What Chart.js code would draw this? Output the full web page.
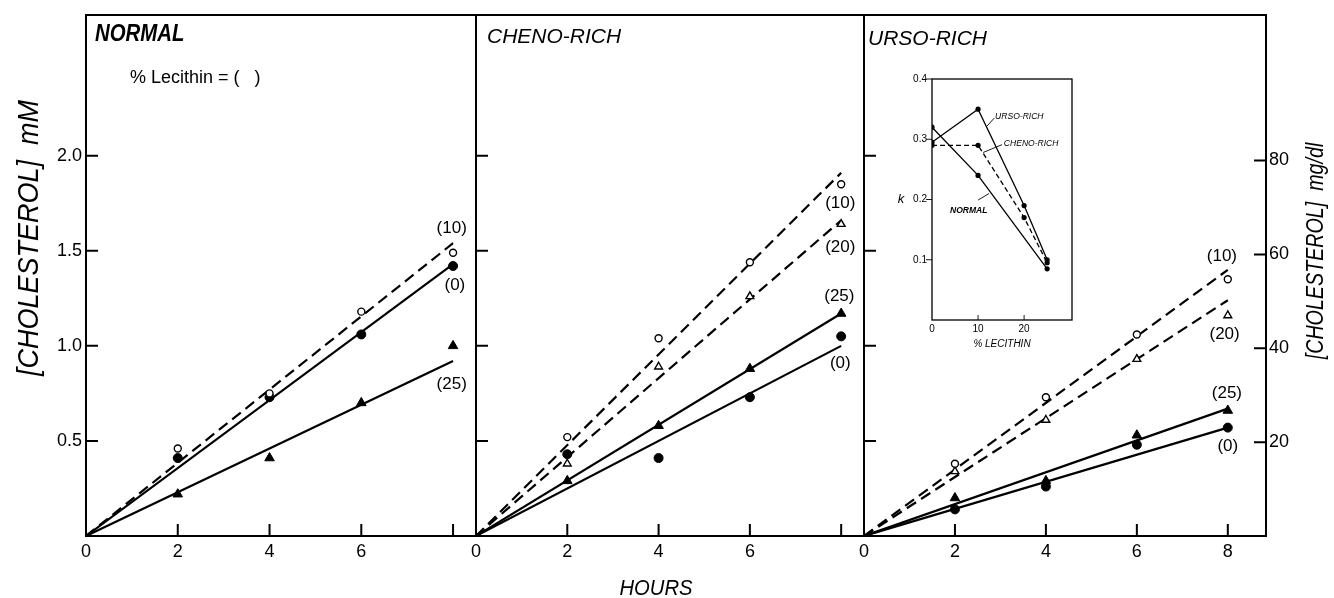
<!DOCTYPE html>
<html>
<head>
<meta charset="utf-8">
<script src="https://cdn.jsdelivr.net/npm/chart.js@4.4.1/dist/chart.umd.min.js"></script>
<style>
  body { margin: 0; background: #fff; }
  #wrap { position: relative; width: 1334px; height: 598px; }
  #wrap canvas { position: absolute; left: 0; top: 0; }
</style>
</head>
<body>
<div id="wrap">
  <canvas id="p1" width="1334" height="598"></canvas>
  <canvas id="p2" width="1334" height="598"></canvas>
  <canvas id="p3" width="1334" height="598"></canvas>
  <canvas id="inset" width="1334" height="598"></canvas>
</div>
<script>
// sampling times (hours) and axis ticks
const hours = [2, 4, 6, 8];
const xTicks = [0, 2, 4, 6, 8];
const yTicks = [0.5, 1.0, 1.5, 2.0];   // mM
const mgTicks = [20, 40, 60, 80];      // mg/dl

// NORMAL bile, series named by % lecithin
const normal10 = [0.46, 0.75, 1.18, 1.49];
const normal0  = [0.41, 0.73, 1.06, 1.42];
const normal25 = [0.22, 0.41, 0.70, 1.00];
const normalFit = [1.54, 1.43, 0.92];       // fitted line value at 8 h: (10), (0), (25)

// CHENO-RICH
const cheno10 = [0.52, 1.04, 1.44, 1.85];
const cheno20 = [0.38, 0.89, 1.26, 1.64];
const cheno25 = [0.29, 0.58, 0.88, 1.17];
const cheno0  = [0.43, 0.41, 0.73, 1.05];
const chenoFit = [1.91, 1.66, 1.17, 1.00];  // (10), (20), (25), (0)

// URSO-RICH
const urso10 = [0.38, 0.73, 1.06, 1.35];
const urso20 = [0.34, 0.61, 0.93, 1.16];
const urso25 = [0.20, 0.29, 0.53, 0.66];
const urso0  = [0.14, 0.26, 0.48, 0.57];
const ursoFit = [1.40, 1.24, 0.67, 0.57];   // (10), (20), (25), (0)

// inset: rate constant k vs % lecithin
const lecithin = [0, 10, 20, 25];
const kUrso   = [0.295, 0.35, 0.19, 0.10];
const kCheno  = [0.29, 0.29, 0.17, 0.095];
const kNormal = [0.32, 0.24, null, 0.085];
const kTicks = [0.1, 0.2, 0.3, 0.4];
const lecTicks = [0, 10, 20];

const FONT = "'Liberation Sans', Arial, sans-serif";
const TOP = 15, BOTTOM = 536;

// marker / line style per % lecithin
const styles = {
  0:  { shape: 'circle',   r: 4.5, fill: '#000', bw: 1,   dash: [] },
  10: { shape: 'circle',   r: 3.5, fill: '#fff', bw: 1.4, dash: [11, 6] },
  20: { shape: 'triangle', r: 4.5, fill: '#fff', bw: 1.4, dash: [11, 6] },
  25: { shape: 'triangle', r: 5.5, fill: '#000', bw: 1,   dash: [] }
};

function txt(ctx, s, x, y, font, align, squeeze, rot, base) {
  ctx.save();
  ctx.translate(x, y);
  if (rot) ctx.rotate(rot);
  ctx.scale(squeeze || 1, 1);
  ctx.font = font;
  ctx.textAlign = align || 'left';
  ctx.textBaseline = base || 'alphabetic';
  ctx.fillStyle = '#000';
  ctx.fillText(s, 0, 0);
  ctx.restore();
}

// fix an axis box to a given size so the plot area lands where the original has it
function fixedAxis(horizontal, size) {
  return sc => {
    if (horizontal) sc.height = size; else sc.width = size;
    sc.paddingLeft = 0; sc.paddingRight = 0; sc.paddingTop = 0; sc.paddingBottom = 0;
  };
}

function decor(p) {
  return {
    id: 'decor',
    afterDraw(chart) {
      const { ctx, chartArea: a, scales } = chart;
      ctx.save();
      ctx.strokeStyle = '#000';
      ctx.lineWidth = 2;
      ctx.strokeRect(a.left, a.top, a.right - a.left, a.bottom - a.top);
      ctx.beginPath();
      yTicks.forEach(v => {
        const y = scales.y.getPixelForValue(v);
        ctx.moveTo(a.left, y); ctx.lineTo(a.left + 12, y);
      });
      xTicks.slice(1).forEach(v => {
        const x = scales.x.getPixelForValue(v);
        ctx.moveTo(x, a.bottom); ctx.lineTo(x, a.bottom - 12);
      });
      if (scales.y2) mgTicks.forEach(v => {
        const y = scales.y2.getPixelForValue(v);
        ctx.moveTo(a.right, y); ctx.lineTo(a.right - 12, y);
      });
      ctx.stroke();
      p.series.forEach(s => {
        txt(ctx, '(' + s.pct + ')', scales.x.getPixelForValue(s.at[0]), scales.y.getPixelForValue(s.at[1]),
            '17px ' + FONT, 'center', 1, 0, 'middle');
      });
      (p.texts || []).forEach(t => txt(ctx, t.s, t.x, t.y, t.font, t.align, t.sq, t.rot));
      ctx.restore();
    }
  };
}

function panel(id, p) {
  const datasets = [];
  p.series.forEach(s => {
    const st = styles[s.pct];
    datasets.push({
      data: [{ x: 0, y: 0 }, { x: 8, y: s.fit }],
      showLine: true, borderColor: '#000', borderWidth: 2.2, borderDash: st.dash,
      pointRadius: 0, order: 1
    });
    datasets.push({
      data: hours.map((h, i) => ({ x: h, y: s.y[i] })),
      showLine: false, pointStyle: st.shape, pointRadius: st.r,
      backgroundColor: st.fill, borderColor: '#000', borderWidth: st.bw, order: 0
    });
  });

  const yw = p.yLabels ? p.left : 0;
  const rw = p.mgAxis ? 1334 - p.right : 0;
  const xh = 598 - BOTTOM;
  const tickFont = { family: FONT, size: 18 };
  const scales = {
    x: {
      type: 'linear', min: 0, max: p.xMax,
      afterBuildTicks: sc => { sc.ticks = xTicks.map(v => ({ value: v })); },
      afterFit: fixedAxis(true, xh),
      grid: { display: false, drawTicks: false },
      border: { display: false },
      ticks: {
        color: '#000', font: tickFont, padding: 5, maxRotation: 0, autoSkip: false,
        callback: v => p.xLabels.includes(v) ? String(v) : ''
      }
    },
    y: {
      type: 'linear', min: 0, max: 2.74,
      afterBuildTicks: sc => { sc.ticks = yTicks.map(v => ({ value: v })); },
      afterFit: fixedAxis(false, yw),
      grid: { display: false, drawTicks: false },
      border: { display: false },
      ticks: { display: !!p.yLabels, color: '#000', font: tickFont, padding: 4, callback: v => v.toFixed(1) }
    }
  };
  if (p.mgAxis) {
    scales.y2 = {
      type: 'linear', position: 'right', min: 0, max: 111,
      afterBuildTicks: sc => { sc.ticks = mgTicks.map(v => ({ value: v })); },
      afterFit: fixedAxis(false, rw),
      grid: { display: false, drawTicks: false },
      border: { display: false },
      ticks: { color: '#000', font: tickFont, padding: 3 }
    };
  }

  new Chart(document.getElementById(id), {
    type: 'scatter',
    data: { datasets },
    options: {
      responsive: false, animation: false, events: [], devicePixelRatio: 1,
      layout: { padding: { left: p.left - yw, right: 1334 - p.right - rw, top: TOP, bottom: 0 } },
      plugins: { legend: { display: false }, tooltip: { enabled: false } },
      scales
    },
    plugins: [decor(p)]
  });
}

panel('p1', {
  left: 86, right: 476, xMax: 8.5, yLabels: true, xLabels: [0, 2, 4, 6],
  series: [
    { pct: 10, y: normal10, fit: normalFit[0], at: [7.97, 1.62] },
    { pct: 0,  y: normal0,  fit: normalFit[1], at: [8.04, 1.32] },
    { pct: 25, y: normal25, fit: normalFit[2], at: [7.97, 0.80] }
  ],
  texts: [
    { s: 'NORMAL', x: 95, y: 41, font: 'italic bold 24px ' + FONT, sq: 0.85 },
    { s: '% Lecithin = (   )', x: 130, y: 83, font: '18px ' + FONT },
    { s: '[CHOLESTEROL]  mM', x: 38, y: 238, font: 'italic 30px ' + FONT, align: 'center', sq: 0.9, rot: -Math.PI / 2 }
  ]
});

panel('p2', {
  left: 476, right: 864, xMax: 8.5, xLabels: [0, 2, 4, 6],
  series: [
    { pct: 10, y: cheno10, fit: chenoFit[0], at: [7.98, 1.75] },
    { pct: 20, y: cheno20, fit: chenoFit[1], at: [7.98, 1.52] },
    { pct: 25, y: cheno25, fit: chenoFit[2], at: [7.96, 1.26] },
    { pct: 0,  y: cheno0,  fit: chenoFit[3], at: [7.98, 0.91] }
  ],
  texts: [
    { s: 'CHENO-RICH', x: 487, y: 43, font: 'italic 21px ' + FONT },
    { s: 'HOURS', x: 656, y: 595, font: 'italic 22px ' + FONT, align: 'center', sq: 0.92 }
  ]
});

panel('p3', {
  left: 864, right: 1266, xMax: 8.84, xLabels: [0, 2, 4, 6, 8], mgAxis: true,
  series: [
    { pct: 10, y: urso10, fit: ursoFit[0], at: [7.87, 1.47] },
    { pct: 20, y: urso20, fit: ursoFit[1], at: [7.93, 1.06] },
    { pct: 25, y: urso25, fit: ursoFit[2], at: [7.98, 0.75] },
    { pct: 0,  y: urso0,  fit: ursoFit[3], at: [8.0, 0.47] }
  ],
  texts: [
    { s: 'URSO-RICH', x: 868, y: 45, font: 'italic 21px ' + FONT },
    { s: '[CHOLESTEROL]  mg/dl', x: 1323, y: 251, font: 'italic 24px ' + FONT, align: 'center', sq: 0.82, rot: -Math.PI / 2 }
  ]
});

// inset k vs % lecithin
const insetSeries = [
  { name: 'URSO-RICH',  k: kUrso,   dash: [],     at: [13.7, 0.337], lead: [[11.96, 0.322], [13.5, 0.335]], bold: false },
  { name: 'CHENO-RICH', k: kCheno,  dash: [5, 3], at: [15.6, 0.293], lead: [[11.1, 0.278], [15.2, 0.291]], bold: false },
  { name: 'NORMAL',     k: kNormal, dash: [],     at: [3.9, 0.182],  lead: [[10.0, 0.199], [12.4, 0.21]],  bold: true }
];

new Chart(document.getElementById('inset'), {
  type: 'scatter',
  data: {
    datasets: insetSeries.map(s => ({
      data: lecithin.map((l, i) => ({ x: l, y: s.k[i] })).filter(d => d.y !== null),
      showLine: true, borderColor: '#000', borderWidth: 1.3, borderDash: s.dash,
      pointRadius: 2.6, pointBackgroundColor: '#000', pointBorderWidth: 0
    }))
  },
  options: {
    responsive: false, animation: false, events: [], devicePixelRatio: 1,
    layout: { padding: { left: 932 - 40, right: 1334 - 1072, top: 79, bottom: 598 - 320 - 20 } },
    plugins: { legend: { display: false }, tooltip: { enabled: false } },
    scales: {
      x: {
        type: 'linear', min: 0, max: 30.4,
        afterBuildTicks: sc => { sc.ticks = lecTicks.map(v => ({ value: v })); },
        afterFit: fixedAxis(true, 20),
        grid: { display: false, drawTicks: false }, border: { display: false },
        ticks: { color: '#000', font: { family: FONT, size: 10 }, padding: 3, maxRotation: 0, autoSkip: false }
      },
      y: {
        type: 'linear', min: 0, max: 0.4,
        afterBuildTicks: sc => { sc.ticks = kTicks.map(v => ({ value: v })); },
        afterFit: fixedAxis(false, 40),
        grid: { display: false, drawTicks: false }, border: { display: false },
        ticks: { color: '#000', font: { family: FONT, size: 10 }, padding: 5, callback: v => v.toFixed(1) }
      }
    }
  },
  plugins: [{
    id: 'insetDecor',
    afterDraw(chart) {
      const { ctx, chartArea: a, scales } = chart;
      ctx.save();
      ctx.strokeStyle = '#000';
      ctx.lineWidth = 1.3;
      ctx.strokeRect(a.left, a.top, a.right - a.left, a.bottom - a.top);
      ctx.beginPath();
      kTicks.forEach(v => {
        const y = scales.y.getPixelForValue(v);
        ctx.moveTo(a.left - 6, y); ctx.lineTo(a.left, y);
      });
      lecTicks.slice(1).forEach(v => {
        const x = scales.x.getPixelForValue(v);
        ctx.moveTo(x, a.bottom); ctx.lineTo(x, a.bottom - 5);
      });
      ctx.lineWidth = 0.9;
      insetSeries.forEach(s => {
        ctx.moveTo(scales.x.getPixelForValue(s.lead[0][0]), scales.y.getPixelForValue(s.lead[0][1]));
        ctx.lineTo(scales.x.getPixelForValue(s.lead[1][0]), scales.y.getPixelForValue(s.lead[1][1]));
      });
      ctx.stroke();
      insetSeries.forEach(s => {
        txt(ctx, s.name, scales.x.getPixelForValue(s.at[0]), scales.y.getPixelForValue(s.at[1]),
            'italic ' + (s.bold ? 'bold ' : '') + '9px ' + FONT, 'left', 0.95, 0, 'middle');
      });
      txt(ctx, 'k', a.left - 31, scales.y.getPixelForValue(0.2), 'italic 13px ' + FONT, 'center', 1, 0, 'middle');
      txt(ctx, '% LECITHIN', (a.left + a.right) / 2, 347, 'italic 10px ' + FONT, 'center');
      ctx.restore();
    }
  }]
});
</script>
</body>
</html>
